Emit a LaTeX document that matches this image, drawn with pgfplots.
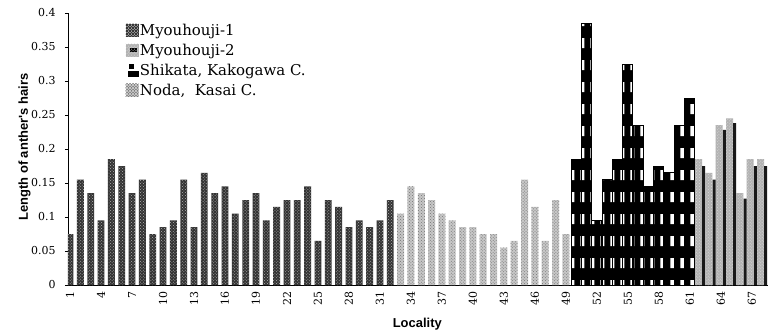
\documentclass[border=0pt]{standalone}
\usepackage{pgfplots}
\pgfplotsset{compat=1.18}
\usepackage{fontspec}
\setmainfont{DejaVu Serif}
\newfontfamily\lab{Liberation Sans}
\usetikzlibrary{patterns}
\pgfdeclarepatternformonly{shikata}{\pgfqpoint{0pt}{0pt}}{\pgfqpoint{10pt}{22pt}}{\pgfqpoint{10pt}{22pt}}{%
  \pgfpathrectangle{\pgfqpoint{3.5pt}{3pt}}{\pgfqpoint{4pt}{10pt}}\pgfusepath{fill}}
\pgfplotsset{
  legMa/.style={legend image code/.code={\fill[black!80] (0bp,-6bp) rectangle (13bp,7bp);
     \fill[pattern=crosshatch dots, pattern color=white!70!black] (0bp,-6bp) rectangle (13bp,7bp);}},
  legMb/.style={legend image code/.code={\fill[black!30] (0bp,-6bp) rectangle (13bp,7bp);
     \fill[black] (4bp,-1bp) rectangle (11bp,3bp);}},
  legSh/.style={legend image code/.code={\fill[black] (4bp,2bp) rectangle (8bp,6bp);
     \fill[black] (3bp,-6bp) rectangle (13bp,-1bp);}},
  legNo/.style={legend image code/.code={\fill[black!22] (0bp,-6bp) rectangle (13bp,7bp);
     \fill[pattern=crosshatch dots, pattern color=black!55] (0bp,-6bp) rectangle (13bp,7bp);}},
}
\begin{document}
\begin{tikzpicture}
\useasboundingbox (-68bp,-51bp) rectangle (700bp,285bp);
\begin{axis}[
  at={(0,0)}, anchor=south west,
  scale only axis, width=700bp, height=272bp,
  xmin=0.8, xmax=68.57, ymin=0, ymax=0.4,
  axis x line*=bottom, axis y line*=left,
  axis line style={black, line width=0.8bp, -},
  xtick={1,4,...,67},
  x tick style={draw=none},
  ytick={0,0.05,0.1,0.15,0.2,0.25,0.3,0.35,0.4},
  /pgf/number format/fixed, /pgf/number format/precision=2,
  y tick style={line width=0.6bp, black},
  tick align=outside, major tick length=3bp,
  tick label style={font=\fontsize{11}{13}\selectfont},
  xticklabel style={rotate=90, anchor=east},
  yticklabel style={xshift=-6bp},
  /pgf/number format/assume math mode=true,
  ylabel={Length of anther's hairs}, xlabel={Locality},
  label style={font=\lab\bfseries\fontsize{13}{15}\selectfont},
  ylabel style={at={(axis description cs:-0.062,0.507)}, anchor=center},
  xlabel style={at={(axis description cs:0.499,-0.145)}, anchor=center},
  legend style={draw=none, fill=none, at={(axis description cs:0.082,0.962)}, anchor=north west,
     font=\fontsize{15}{17}\selectfont, row sep=5bp, inner sep=0bp, nodes={inner sep=1bp, anchor=west}},
  legend cell align=left,
]
% Myouhouji-1
\addplot[ybar, bar shift=0pt, bar width=6.8bp, fill=black!80, draw=none,
   postaction={pattern=crosshatch dots, pattern color=white!70!black}, legMa] coordinates {
 (1,0.075) (2,0.155) (3,0.135) (4,0.095) (5,0.185) (6,0.175) (7,0.135) (8,0.155)
 (9,0.075) (10,0.085) (11,0.095) (12,0.155) (13,0.085) (14,0.165) (15,0.135) (16,0.145)
 (17,0.105) (18,0.125) (19,0.135) (20,0.095) (21,0.115) (22,0.125) (23,0.125) (24,0.145)
 (25,0.065) (26,0.125) (27,0.115) (28,0.085) (29,0.095) (30,0.085) (31,0.095) (32,0.125)};
\addlegendentry{Myouhouji-1}
% Myouhouji-2
\addplot[ybar, bar shift=-1.6bp, bar width=7bp, fill=black!30, draw=none,
   postaction={pattern=crosshatch dots, pattern color=black!15}, legMb] coordinates {
 (62,0.185) (63,0.165) (64,0.235) (65,0.245) (66,0.135) (67,0.185) (68,0.185)};
\addlegendentry{Myouhouji-2}
% Shikata
\addplot[ybar, bar shift=0pt, bar width=10bp, fill=black, draw=black, line width=0.8bp,
   postaction={pattern=shikata, pattern color=white}, legSh] coordinates {
 (50,0.185) (51,0.385) (52,0.095) (53,0.155) (54,0.185) (55,0.325) (56,0.235) (57,0.145)
 (58,0.175) (59,0.165) (60,0.235) (61,0.275)};
\addlegendentry{Shikata, Kakogawa C.}
% Noda
\addplot[ybar, bar shift=0pt, bar width=7bp, fill=black!22, draw=none,
   postaction={pattern=crosshatch dots, pattern color=black!55}, legNo] coordinates {
 (33,0.105) (34,0.145) (35,0.135) (36,0.125) (37,0.105) (38,0.095) (39,0.085) (40,0.085)
 (41,0.075) (42,0.075) (43,0.055) (44,0.065) (45,0.155) (46,0.115) (47,0.065) (48,0.125)
 (49,0.075)};
\addlegendentry{Noda,\ \ Kasai C.}
% Myouhouji-2 dark stripes
\addplot[ybar, bar shift=3.6bp, bar width=3bp, fill=black!90, draw=none, forget plot] coordinates {
 (62,0.175) (63,0.155) (64,0.228) (65,0.238) (66,0.127) (67,0.175) (68,0.175)};
\end{axis}
\end{tikzpicture}
\end{document}
